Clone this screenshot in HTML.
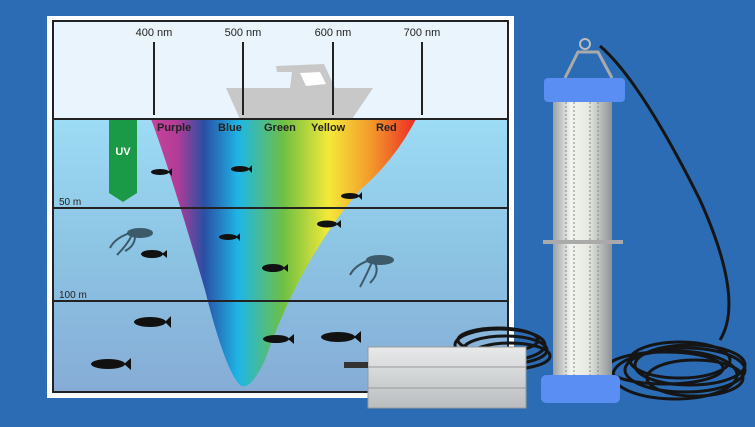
<!DOCTYPE html>
<html><head><meta charset="utf-8"><style>
html,body{margin:0;padding:0;background:#2b6cb4;}
svg{display:block}
text{font-family:"Liberation Sans",sans-serif;}
</style></head><body>
<svg width="755" height="427" viewBox="0 0 755 427" xmlns="http://www.w3.org/2000/svg">
<defs>
<linearGradient id="spec" x1="151" x2="416" y1="0" y2="0" gradientUnits="userSpaceOnUse">
<stop offset="0" stop-color="#c8449a"/>
<stop offset="0.1" stop-color="#b13c96"/>
<stop offset="0.2" stop-color="#2a4fa3"/>
<stop offset="0.33" stop-color="#1fb6e6"/>
<stop offset="0.5" stop-color="#6ec043"/>
<stop offset="0.67" stop-color="#f4e93a"/>
<stop offset="0.83" stop-color="#f39a2a"/>
<stop offset="1" stop-color="#ec2b25"/>
</linearGradient>
<linearGradient id="water" x1="0" y1="119" x2="0" y2="392" gradientUnits="userSpaceOnUse">
<stop offset="0" stop-color="#9ddcf5"/>
<stop offset="0.5" stop-color="#8cc3e3"/>
<stop offset="1" stop-color="#86acd6"/>
</linearGradient>
<linearGradient id="tube" x1="553" x2="612" y1="0" y2="0" gradientUnits="userSpaceOnUse">
<stop offset="0" stop-color="#9aa0a3"/>
<stop offset="0.3" stop-color="#f2f4ef"/>
<stop offset="0.6" stop-color="#e6e9e0"/>
<stop offset="1" stop-color="#8d9396"/>
</linearGradient>
<linearGradient id="box" x1="0" y1="347" x2="0" y2="408" gradientUnits="userSpaceOnUse">
<stop offset="0" stop-color="#e8eaea"/><stop offset="1" stop-color="#b9bdbf"/>
</linearGradient>
</defs>
<rect width="755" height="427" fill="#2b6cb4"/>
<rect x="47" y="16" width="467" height="382" fill="#fff"/>
<rect x="53" y="21" width="455" height="98" fill="#e9f4fc"/>
<rect x="53" y="119" width="455" height="273" fill="url(#water)"/>
<!-- boat -->
<polygon points="226,88 373,88 352,119 240,119" fill="#c8c8c8"/>
<polygon points="276,66 324,64 335,88 290,88 292,72 277,72" fill="#c8c8c8"/>
<polygon points="300,73 320,72 326,84 306,86" fill="#fff"/>
<!-- ticks -->
<g stroke="#222" stroke-width="2">
<line x1="154" y1="42" x2="154" y2="115"/><line x1="243" y1="42" x2="243" y2="115"/>
<line x1="333" y1="42" x2="333" y2="115"/><line x1="422" y1="42" x2="422" y2="115"/>
</g>
<g font-size="11" fill="#222" text-anchor="middle">
<text x="154" y="36">400 nm</text><text x="243" y="36">500 nm</text>
<text x="333" y="36">600 nm</text><text x="422" y="36">700 nm</text>
</g>
<!-- spectrum -->
<path d="M151,119 L416,119 Q395,160 360,190 Q300,260 265,360 Q250,392 240,385 Q225,370 205,290 Q170,170 151,119Z" fill="url(#spec)"/>
<g font-size="11" font-weight="bold" fill="#222">
<text x="157" y="131">Purple</text><text x="218" y="131">Blue</text><text x="264" y="131">Green</text>
<text x="311" y="131">Yellow</text><text x="376" y="131">Red</text>
</g>
<!-- UV -->
<polygon points="109,119 137,119 137,193 123,202 109,193" fill="#1a9a46"/>
<text x="123" y="155" font-size="11" font-weight="bold" fill="#fff" text-anchor="middle">UV</text>
<!-- lines -->
<g stroke="#222" stroke-width="2" fill="none">
<rect x="53" y="21" width="455" height="371"/>
<line x1="53" y1="119" x2="508" y2="119"/>
<line x1="53" y1="208" x2="508" y2="208"/>
<line x1="53" y1="301" x2="508" y2="301"/>
</g>
<text x="59" y="205" font-size="10" fill="#222">50 m</text>
<text x="59" y="298" font-size="10" fill="#222">100 m</text>
<!-- fish -->
<g fill="#111">
<ellipse cx="160" cy="172" rx="9" ry="3"/><polygon points="168,172 172,168 172,176"/>
<ellipse cx="240" cy="169" rx="9" ry="3"/><polygon points="248,169 252,165 252,173"/>
<ellipse cx="350" cy="196" rx="9" ry="3"/><polygon points="358,196 362,192 362,200"/>
<ellipse cx="327" cy="224" rx="10" ry="3.5"/><polygon points="336,224 341,220 341,228"/>
<ellipse cx="228" cy="237" rx="9" ry="3"/><polygon points="236,237 240,233 240,241"/>
<ellipse cx="152" cy="254" rx="11" ry="4"/><polygon points="162,254 167,250 167,258"/>
<ellipse cx="273" cy="268" rx="11" ry="4"/><polygon points="283,268 288,264 288,272"/>
<ellipse cx="150" cy="322" rx="16" ry="5"/><polygon points="165,322 171,316 171,328"/>
<ellipse cx="276" cy="339" rx="13" ry="4"/><polygon points="288,339 294,334 294,344"/>
<ellipse cx="338" cy="337" rx="17" ry="5"/><polygon points="354,337 361,331 361,343"/>
<ellipse cx="108" cy="364" rx="17" ry="5"/><polygon points="124,364 131,358 131,370"/>
</g>
<g stroke="#3d5a6b" stroke-width="2" fill="none">
<ellipse cx="140" cy="233" rx="12" ry="4" fill="#3d5a6b"/>
<path d="M130,233 q-15,5 -20,15 M132,235 q-5,10 -15,20 M135,236 q0,10 -10,15"/>
<ellipse cx="380" cy="260" rx="13" ry="4" fill="#3d5a6b"/>
<path d="M370,260 q-15,5 -20,15 M372,262 q-5,12 -12,25 M375,263 q5,10 -5,20"/>
</g>
<!-- cable coil -->
<g stroke="#151515" stroke-width="3" fill="none">
<ellipse cx="500" cy="345" rx="45" ry="16"/><ellipse cx="505" cy="350" rx="42" ry="14"/>
<ellipse cx="510" cy="356" rx="40" ry="13"/><ellipse cx="498" cy="340" rx="40" ry="12"/>
<ellipse cx="690" cy="365" rx="55" ry="20"/><ellipse cx="685" cy="370" rx="60" ry="22"/>
<ellipse cx="680" cy="360" rx="50" ry="18"/><ellipse cx="675" cy="375" rx="62" ry="24"/>
<ellipse cx="665" cy="368" rx="58" ry="16"/><ellipse cx="695" cy="378" rx="48" ry="18"/>
<path d="M600,46 Q640,80 700,200 Q745,300 720,340"/>
</g>
<!-- driver box -->
<rect x="368" y="347" width="158" height="61" fill="url(#box)" stroke="#999"/>
<line x1="368" y1="367" x2="526" y2="367" stroke="#999"/><line x1="368" y1="388" x2="526" y2="388" stroke="#999"/>
<rect x="344" y="362" width="24" height="6" fill="#333"/>
<!-- lamp -->
<path d="M565,78 L578,52 L598,52 L612,78" stroke="#aaa" stroke-width="3" fill="none"/>
<circle cx="585" cy="44" r="5" stroke="#bbb" stroke-width="2" fill="none"/>
<rect x="553" y="100" width="59" height="278" fill="url(#tube)"/>
<g stroke="#888" stroke-width="1" stroke-dasharray="2 2">
<line x1="566" y1="102" x2="566" y2="375"/><line x1="574" y1="102" x2="574" y2="375"/>
<line x1="590" y1="102" x2="590" y2="375"/><line x1="598" y1="102" x2="598" y2="375"/>
</g>
<rect x="543" y="240" width="80" height="4" fill="#aaa"/>
<rect x="544" y="78" width="81" height="24" rx="4" fill="#5b8ef2"/>
<rect x="541" y="375" width="79" height="28" rx="5" fill="#5b8ef2"/>
</svg>
</body></html>
